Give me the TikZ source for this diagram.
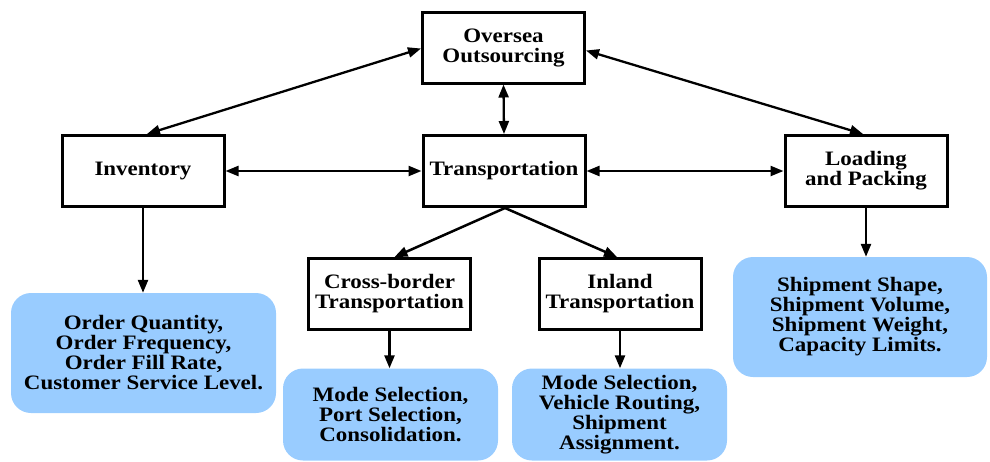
\documentclass[tikz,border=0pt]{standalone}
\usepackage{fontspec}
\setmainfont{Liberation Serif}[FakeStretch=1.12]
\usetikzlibrary{arrows.meta}

\definecolor{paleblue}{HTML}{99CCFF}

\tikzset{
  topic/.style={draw=black, line width=3pt, fill=white, align=center,
    minimum width=162pt, minimum height=71pt, inner sep=2pt,
    font=\fontsize{20.5}{20}\selectfont\bfseries},
  factors/.style={fill=paleblue, rounded corners=20pt, align=center,
    inner sep=2pt, font=\fontsize{20.5}{20}\selectfont\bfseries},
  link/.style={line width=2.5pt, -{Triangle[length=13pt,width=10pt]}},
  twoway/.style={line width=2.3pt,
    {Triangle[length=13pt,width=10pt]}-{Triangle[length=13pt,width=10pt]}}
}

\begin{document}
\begin{tikzpicture}[x=1pt, y=-1pt]
\useasboundingbox (0,0) rectangle (990,461);

% decision areas
\node[topic] (over)   at (503.5,47.5) {Oversea\\Outsourcing};
\node[topic] (inv)    at (143,171)    {Inventory};
\node[topic] (trans)  at (504,171)    {Transportation};
\node[topic] (load)   at (866,171)    {Loading\\and Packing};
\node[topic] (cross)  at (389.5,294)  {Cross-border\\Transportation};
\node[topic] (inland) at (620,294)    {Inland\\Transportation};

% decision variables
\node[factors, minimum width=265pt, minimum height=120pt] (invf) at (143.5,353)
  {Order Quantity,\\Order Frequency,\\Order Fill Rate,\\Customer Service Level.};
\node[factors, minimum width=215pt, minimum height=92pt] (crossf) at (390.5,414.5)
  {Mode Selection,\\Port Selection,\\Consolidation.};
\node[factors, minimum width=215pt, minimum height=92pt] (inlandf) at (619.5,414.5)
  {Mode Selection,\\Vehicle Routing,\\Shipment\\Assignment.};
\node[factors, minimum width=254pt, minimum height=120pt] (loadf) at (860,317)
  {Shipment Shape,\\Shipment Volume,\\Shipment Weight,\\Capacity Limits.};

% relations between areas
\coordinate (overL) at ([yshift=-1pt]over.west);
\coordinate (overR) at ([yshift=-3pt]over.east);
\coordinate (invT)  at ([xshift=4pt]inv.north);
\coordinate (loadT) at ([xshift=-3pt]load.north);
\draw[twoway] (overL) -- (invT);
\draw[twoway] (overR) -- (loadT);
\draw[twoway] (over.south) -- (trans.north);
\draw[twoway] (inv.east) -- (trans.west);
\draw[twoway] (trans.east) -- (load.west);

% split of transportation
\coordinate (transB) at ([xshift=1pt]trans.south);
\coordinate (crossT) at ([xshift=5pt]cross.north);
\coordinate (inlandT) at ([xshift=-3pt]inland.north);
\draw[link] (transB) -- (crossT);
\draw[link] (transB) -- (inlandT);

% areas to their variables
\draw[link] (inv.south) -- (inv.south |- invf.north);
\draw[link] (cross.south) -- (cross.south |- crossf.north);
\draw[link] (inland.south) -- (inland.south |- inlandf.north);
\draw[link] (load.south) -- (load.south |- loadf.north);
\end{tikzpicture}
\end{document}
